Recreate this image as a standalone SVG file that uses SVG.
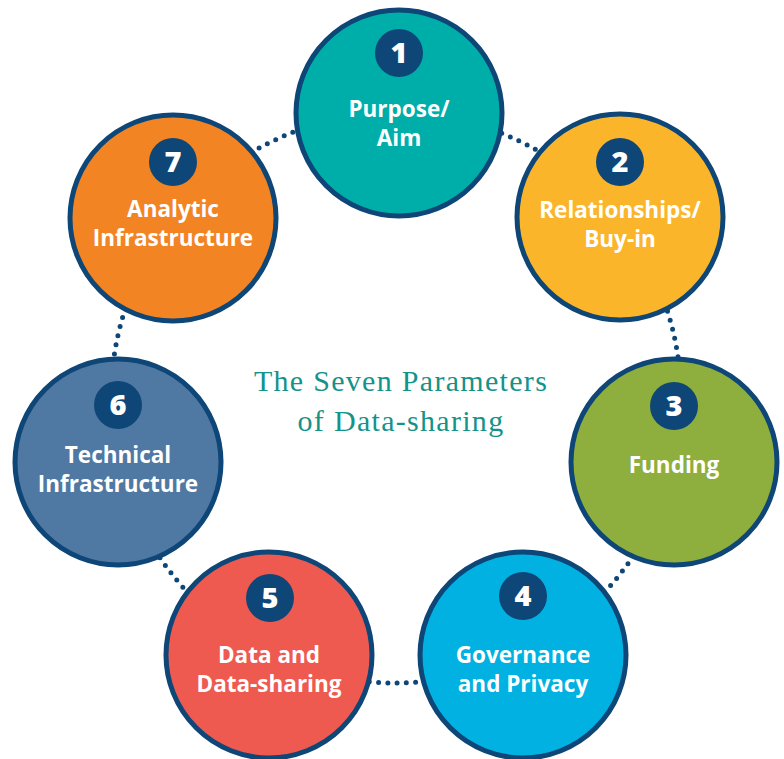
<svg xmlns="http://www.w3.org/2000/svg" width="784" height="759" viewBox="0 0 784 759">
<style>
.ring{fill:none;stroke:#0d4677;stroke-width:5;stroke-linecap:round;stroke-dasharray:0 9.3}
.node{stroke:#0d4677;stroke-width:5}
.badge{fill:#0d4677}
.num{font-family:"Open Sans","Liberation Sans",sans-serif;font-weight:800;font-size:29px;fill:#fff;text-anchor:middle}
.lbl{font-family:"Open Sans","Liberation Sans",sans-serif;font-weight:700;font-size:22.5px;fill:#fff;text-anchor:middle}
.title{font-family:"Liberation Serif","DejaVu Serif",serif;font-size:30px;letter-spacing:1.3px;fill:#14938a;text-anchor:middle}
</style>
<rect width="784" height="759" fill="#fff"/>
<g id="connectors">
<circle class="ring" cx="396" cy="398" r="285"/>
</g>
<g id="node1">
<circle class="node" cx="399" cy="113" r="103" fill="#00aea9"/>
<circle class="badge" cx="399" cy="53" r="24"/>
<text class="num" x="399" y="63">1</text>
<text class="lbl" x="399" y="117">Purpose/</text>
<text class="lbl" x="399" y="146">Aim</text>
</g>
<g id="node2">
<circle class="node" cx="620" cy="217" r="103" fill="#fbb52b"/>
<circle class="badge" cx="620" cy="162" r="24"/>
<text class="num" x="620" y="172">2</text>
<text class="lbl" x="620" y="218">Relationships/</text>
<text class="lbl" x="620" y="247">Buy-in</text>
</g>
<g id="node3">
<circle class="node" cx="674" cy="462" r="103" fill="#8eae3d"/>
<circle class="badge" cx="674" cy="406" r="24"/>
<text class="num" x="674" y="416">3</text>
<text class="lbl" x="674" y="473">Funding</text>
</g>
<g id="node4">
<circle class="node" cx="523" cy="655" r="103" fill="#00b1e1"/>
<circle class="badge" cx="523" cy="596" r="24"/>
<text class="num" x="523" y="606">4</text>
<text class="lbl" x="523" y="663">Governance</text>
<text class="lbl" x="523" y="692">and Privacy</text>
</g>
<g id="node5">
<circle class="node" cx="269" cy="655" r="103" fill="#ef5a50"/>
<circle class="badge" cx="270" cy="598" r="24"/>
<text class="num" x="270" y="608">5</text>
<text class="lbl" x="269" y="663">Data and</text>
<text class="lbl" x="269" y="692">Data-sharing</text>
</g>
<g id="node6">
<circle class="node" cx="118" cy="462" r="103" fill="#4f78a3"/>
<circle class="badge" cx="118" cy="405" r="24"/>
<text class="num" x="118" y="415">6</text>
<text class="lbl" x="118" y="463">Technical</text>
<text class="lbl" x="118" y="492">Infrastructure</text>
</g>
<g id="node7">
<circle class="node" cx="173" cy="218" r="103" fill="#f28424"/>
<circle class="badge" cx="173" cy="162" r="24"/>
<text class="num" x="173" y="172">7</text>
<text class="lbl" x="173" y="217">Analytic</text>
<text class="lbl" x="173" y="246">Infrastructure</text>
</g>
<g id="title">
<text class="title" x="401" y="391">The Seven Parameters</text>
<text class="title" x="401" y="431">of Data-sharing</text>
</g>
</svg>
